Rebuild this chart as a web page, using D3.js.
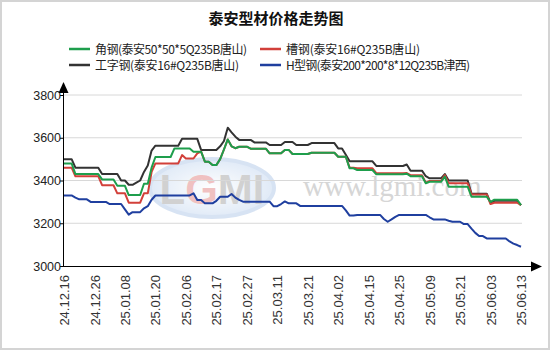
<!DOCTYPE html>
<html><head><meta charset="utf-8">
<script src="https://cdn.jsdelivr.net/npm/d3@7"></script>
<style>body{margin:0;background:#fff}svg{display:block}</style>
</head><body><svg id="c" width="550" height="350"></svg>
<script>
const title = "泰安型材价格走势图";
const seriesNames = ["角钢(泰安50*50*5Q235B唐山)", "槽钢(泰安16#Q235B唐山)", "工字钢(泰安16#Q235B唐山)", "H型钢(泰安200*200*8*12Q235B津西)"];
const tickLabels = ["24.12.16","24.12.26","25.01.08","25.01.20","25.02.06","25.02.17","25.02.27","25.03.11","25.03.21","25.04.02","25.04.15","25.04.25","25.05.09","25.05.21","25.06.03","25.06.13"];
const yTicks = [3000, 3200, 3400, 3600, 3800];

const angle = [
 3480,3480,3480,3430,3430,3430,3430,3430,3430,3430,
 3405,3405,3405,3405,3375,3375,3375,3332,3332,3332,
 3332,3385,3385,3460,3510,3510,3510,3510,3510,3550,
 3550,3550,3550,3550,3535,3535,3535,3488,3488,3472,
 3472,3500,3545,3592,3560,3551,3558,3558,3558,3549,
 3549,3549,3549,3549,3527,3527,3527,3527,3543,3543,
 3524,3524,3524,3524,3524,3530,3530,3530,3530,3530,
 3530,3530,3511,3511,3511,3457,3457,3449,3449,3449,
 3449,3449,3429,3429,3429,3429,3429,3429,3429,3429,
 3432,3420,3420,3420,3420,3387,3394,3394,3394,3394,
 3418,3371,3371,3371,3371,3371,3371,3324,3324,3324,
 3324,3324,3300,3310,3310,3310,3310,3310,3310,3310,
 3285];
const channel = [
 3460,3460,3460,3420,3420,3420,3420,3420,3420,3420,
 3378,3378,3378,3378,3340,3340,3340,3296,3296,3296,
 3296,3340,3340,3440,3480,3480,3480,3480,3480,3480,
 3480,3519,3503,3503,3503,3527,3535,3488,3488,3472,
 3472,3500,3545,3592,3560,3551,3558,3558,3558,3549,
 3549,3549,3549,3549,3527,3527,3527,3527,3543,3543,
 3524,3524,3524,3524,3524,3530,3530,3530,3530,3530,
 3530,3530,3511,3511,3511,3460,3460,3457,3457,3457,
 3457,3457,3434,3434,3434,3434,3434,3434,3434,3434,
 3435,3425,3425,3425,3425,3390,3398,3398,3398,3398,
 3425,3387,3387,3387,3387,3387,3387,3335,3335,3335,
 3335,3335,3290,3296,3296,3296,3296,3296,3296,3296,
 3285];
const ibeam = [
 3500,3500,3500,3460,3460,3460,3460,3460,3460,3460,
 3430,3430,3430,3430,3430,3400,3400,3380,3380,3390,
 3400,3440,3470,3540,3563,3563,3563,3563,3563,3563,
 3563,3595,3595,3595,3595,3595,3543,3543,3543,3543,
 3543,3560,3585,3647,3625,3605,3590,3590,3590,3590,
 3578,3578,3578,3578,3566,3566,3566,3566,3580,3580,
 3580,3566,3566,3566,3566,3575,3575,3575,3575,3575,
 3575,3575,3550,3550,3520,3490,3490,3490,3490,3490,
 3490,3490,3468,3468,3468,3468,3468,3468,3468,3468,
 3475,3446,3446,3446,3446,3420,3410,3410,3410,3410,
 3430,3400,3400,3400,3400,3400,3400,3338,3338,3338,
 3338,3338,3295,3305,3305,3305,3305,3305,3305,3305,
 3285];
const hbeam = [
 3330,3330,3330,3320,3312,3312,3312,3300,3300,3300,
 3300,3300,3290,3290,3290,3290,3265,3240,3252,3252,
 3252,3270,3280,3310,3330,3330,3330,3330,3330,3330,
 3330,3330,3330,3330,3340,3309,3309,3293,3293,3293,
 3305,3324,3324,3324,3337,3320,3309,3301,3301,3301,
 3301,3301,3301,3301,3301,3280,3280,3290,3302,3293,
 3293,3293,3281,3281,3281,3281,3281,3281,3281,3281,
 3281,3281,3281,3281,3260,3236,3236,3239,3239,3239,
 3239,3239,3239,3239,3220,3207,3218,3230,3239,3239,
 3239,3239,3239,3239,3239,3239,3228,3218,3218,3218,
 3218,3212,3207,3207,3207,3196,3196,3175,3155,3140,
 3140,3129,3129,3129,3129,3129,3129,3115,3105,3098,
 3090];

const colors = ["#1e9e4c", "#d2403a", "#333333", "#1f3f9f"];
const data = [angle, channel, ibeam, hbeam];

const svg = d3.select("#c");
svg.append("rect").attr("x",1).attr("y",1).attr("width",548).attr("height",348).attr("fill","#fff").attr("stroke","#d4d4d4").attr("stroke-width",2);

const n = angle.length;
const x = d3.scaleLinear().domain([0, n-1]).range([64, 521]);
const y = d3.scaleLinear().domain([3000, 3800]).range([266, 95]);

// title
svg.append("text").attr("x",276).attr("y",24).attr("text-anchor","middle")
  .style("font-family","'Noto Sans CJK SC',sans-serif").style("font-weight","bold").style("font-size","15px").attr("fill","#111").text(title);

// legend
const legPos = [[69,49],[260,49],[69,65],[260,65]];
const legLen = [152,134,144,184];
seriesNames.forEach((s,k)=>{
  const [lx,ly]=legPos[k];
  svg.append("line").attr("x1",lx).attr("x2",lx+21).attr("y1",ly).attr("y2",ly).attr("stroke",colors[k]).attr("stroke-width",2.5);
  svg.append("text").attr("x",lx+26).attr("y",ly+4.5).style("font-family","'Noto Sans CJK SC',sans-serif").style("font-size","12px").attr("fill","#222").attr("textLength", legLen[k]).text(s);
});

// watermark
const defs = svg.append("defs");
const gr = defs.append("radialGradient").attr("id","wg");
gr.append("stop").attr("offset","0%").attr("stop-color","#ffffff");
gr.append("stop").attr("offset","100%").attr("stop-color","#bcd2ee");
const wm = svg.append("g").attr("opacity",0.45);
wm.append("ellipse").attr("cx",212).attr("cy",188).attr("rx",62).attr("ry",29).attr("fill","url(#wg)").attr("stroke","#a8c2e6").attr("stroke-width",4);
const wt = wm.append("text").attr("x",212).attr("y",204).attr("text-anchor","middle").style("font-family","'Liberation Sans',sans-serif").style("font-weight","bold").style("font-size","42px");
wt.append("tspan").attr("fill","#9a9a9a").text("L");
wt.append("tspan").attr("fill","#e07878").text("G");
wt.append("tspan").attr("fill","#9a9a9a").text("MI");
svg.append("text").attr("x",303).attr("y",196).style("font-family","'Liberation Serif',serif").style("font-size","29px").attr("fill","#d6d6d6").text("www.lgmi.com");

// grid
svg.append("g").selectAll("line").data(yTicks.filter(v=>v>3000)).join("line")
  .attr("x1",63).attr("x2",522).attr("y1",d=>y(d)).attr("y2",d=>y(d)).attr("stroke","#d8d8d8").attr("stroke-width",1);

// y axis
const ya = svg.append("g").attr("transform","translate(63,0)").call(d3.axisLeft(y).tickValues(yTicks).tickSize(3).tickFormat(d3.format("d")));
ya.select(".domain").remove();
ya.selectAll("text").style("font-family","'Liberation Sans',Arial,sans-serif").style("font-size","12.5px").attr("fill","#222").attr("x",-2);
ya.selectAll("line").attr("stroke","#000");
svg.append("line").attr("x1",63.5).attr("x2",63.5).attr("y1",266).attr("y2",90).attr("stroke","#000");
svg.append("path").attr("d","M63.5,82 L58.5,93 L68.5,93 Z").attr("fill","#000");

// x axis
const tickIdx = tickLabels.map((_,k)=>k*8);
const xa = svg.append("g").attr("transform","translate(0,266)").call(d3.axisBottom(x).tickValues(tickIdx).tickSize(0).tickFormat((d,k)=>tickLabels[k]));
xa.select(".domain").remove();
xa.selectAll("text").attr("transform","rotate(-90)").attr("text-anchor","end").attr("x",-9).attr("y",0).attr("dy","0.35em")
  .style("font-family","'Liberation Sans',Arial,sans-serif").style("font-size","13px").attr("fill","#333");
svg.append("line").attr("x1",63).attr("x2",532).attr("y1",266.5).attr("y2",266.5).attr("stroke","#000");
svg.append("path").attr("d","M542,266.5 L531,261.5 L531,271.5 Z").attr("fill","#000");

// lines
const line = d3.line().x((d,i)=>x(i)).y(d=>y(d));
const order = [2,1,0,3];
order.forEach(k=>{
  svg.append("path").datum(data[k]).attr("d",line).attr("fill","none").attr("stroke",colors[k]).attr("stroke-width",2).attr("stroke-linejoin","round");
});
</script></body></html>
